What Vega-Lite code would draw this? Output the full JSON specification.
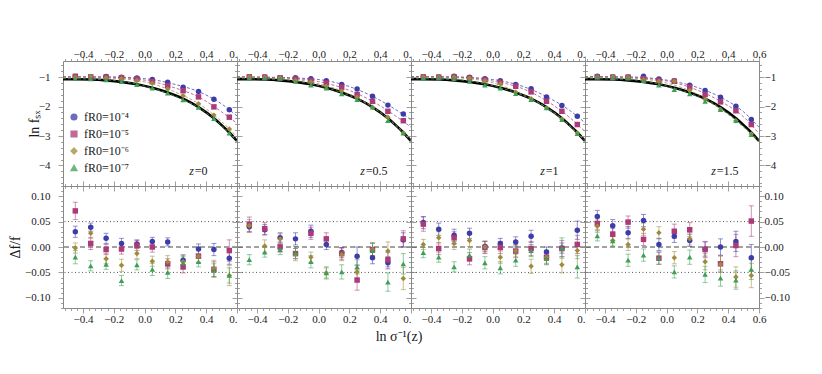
{
"$schema": "https://vega.github.io/schema/vega-lite/v6.json",
"background": "white",
"padding": {"left": 8, "top": 48, "right": 5, "bottom": 5},
"config": {
  "font": "Liberation Serif",
  "view": {"stroke": null},
  "axis": {"grid": false, "domainColor": "#888", "tickColor": "#888", "labelFont": "Liberation Serif", "labelFontSize": 11, "labelColor": "#1a1a1a", "labelFlush": false, "labelOverlap": false, "titleFont": "Liberation Serif", "titleFontSize": 14, "titleFontWeight": "normal", "titleColor": "#1a1a1a", "domainWidth": 1, "tickWidth": 0.8}
},
"resolve": {"legend": {"color": "independent", "shape": "independent"}},
"datasets": {
"refs": [{"v": 0.05}, {"v": -0.05}],
"black": [
{"x":-0.53,"y":-1.07},{"x":-0.45,"y":-1.07},{"x":-0.35,"y":-1.08},{"x":-0.25,"y":-1.11},{"x":-0.15,"y":-1.16},{"x":-0.05,"y":-1.24},{"x":0.05,"y":-1.36},{"x":0.15,"y":-1.52},{"x":0.25,"y":-1.73},{"x":0.35,"y":-2.02},{"x":0.45,"y":-2.40},{"x":0.5,"y":-2.63},{"x":0.55,"y":-2.88},{"x":0.6,"y":-3.17}
],
"fits": [
{"z":0,"m":"4","x":-0.53,"y":-0.99},{"z":0,"m":"4","x":-0.25,"y":-0.99},{"z":0,"m":"4","x":0,"y":-1.05},{"z":0,"m":"4","x":0.2,"y":-1.25},{"z":0,"m":"4","x":0.35,"y":-1.49},{"z":0,"m":"4","x":0.5,"y":-1.91},{"z":0,"m":"4","x":0.6,"y":-2.32},
{"z":0,"m":"5","x":-0.53,"y":-0.99},{"z":0,"m":"5","x":-0.25,"y":-1.00},{"z":0,"m":"5","x":0,"y":-1.10},{"z":0,"m":"5","x":0.2,"y":-1.37},{"z":0,"m":"5","x":0.35,"y":-1.67},{"z":0,"m":"5","x":0.5,"y":-2.18},{"z":0,"m":"5","x":0.6,"y":-2.57},
{"z":0,"m":"6","x":-0.53,"y":-1.02},{"z":0,"m":"6","x":-0.25,"y":-1.03},{"z":0,"m":"6","x":0,"y":-1.16},{"z":0,"m":"6","x":0.2,"y":-1.51},{"z":0,"m":"6","x":0.35,"y":-1.90},{"z":0,"m":"6","x":0.5,"y":-2.51},{"z":0,"m":"6","x":0.6,"y":-3.03},
{"z":0,"m":"7","x":-0.53,"y":-1.05},{"z":0,"m":"7","x":-0.25,"y":-1.09},{"z":0,"m":"7","x":0,"y":-1.30},{"z":0,"m":"7","x":0.2,"y":-1.65},{"z":0,"m":"7","x":0.35,"y":-2.03},{"z":0,"m":"7","x":0.5,"y":-2.64},{"z":0,"m":"7","x":0.6,"y":-3.18},
{"z":0.5,"m":"4","x":-0.53,"y":-0.99},{"z":0.5,"m":"4","x":-0.25,"y":-1.01},{"z":0.5,"m":"4","x":0,"y":-1.08},{"z":0.5,"m":"4","x":0.2,"y":-1.32},{"z":0.5,"m":"4","x":0.35,"y":-1.65},{"z":0.5,"m":"4","x":0.5,"y":-2.10},{"z":0.5,"m":"4","x":0.6,"y":-2.45},
{"z":0.5,"m":"5","x":-0.53,"y":-0.99},{"z":0.5,"m":"5","x":-0.25,"y":-1.02},{"z":0.5,"m":"5","x":0,"y":-1.15},{"z":0.5,"m":"5","x":0.2,"y":-1.45},{"z":0.5,"m":"5","x":0.35,"y":-1.82},{"z":0.5,"m":"5","x":0.5,"y":-2.32},{"z":0.5,"m":"5","x":0.6,"y":-2.70},
{"z":0.5,"m":"6","x":-0.53,"y":-1.00},{"z":0.5,"m":"6","x":-0.25,"y":-1.04},{"z":0.5,"m":"6","x":0,"y":-1.22},{"z":0.5,"m":"6","x":0.2,"y":-1.58},{"z":0.5,"m":"6","x":0.35,"y":-2.00},{"z":0.5,"m":"6","x":0.5,"y":-2.62},{"z":0.5,"m":"6","x":0.6,"y":-3.12},
{"z":0.5,"m":"7","x":-0.53,"y":-1.05},{"z":0.5,"m":"7","x":-0.25,"y":-1.08},{"z":0.5,"m":"7","x":0,"y":-1.29},{"z":0.5,"m":"7","x":0.2,"y":-1.63},{"z":0.5,"m":"7","x":0.35,"y":-2.02},{"z":0.5,"m":"7","x":0.5,"y":-2.64},{"z":0.5,"m":"7","x":0.6,"y":-3.17},
{"z":1,"m":"4","x":-0.53,"y":-0.98},{"z":1,"m":"4","x":-0.25,"y":-0.99},{"z":1,"m":"4","x":0,"y":-1.08},{"z":1,"m":"4","x":0.2,"y":-1.32},{"z":1,"m":"4","x":0.35,"y":-1.66},{"z":1,"m":"4","x":0.5,"y":-2.13},{"z":1,"m":"4","x":0.6,"y":-2.55},
{"z":1,"m":"5","x":-0.53,"y":-0.99},{"z":1,"m":"5","x":-0.25,"y":-1.00},{"z":1,"m":"5","x":0,"y":-1.13},{"z":1,"m":"5","x":0.2,"y":-1.40},{"z":1,"m":"5","x":0.35,"y":-1.80},{"z":1,"m":"5","x":0.5,"y":-2.37},{"z":1,"m":"5","x":0.6,"y":-2.85},
{"z":1,"m":"6","x":-0.53,"y":-1.00},{"z":1,"m":"6","x":-0.25,"y":-1.02},{"z":1,"m":"6","x":0,"y":-1.19},{"z":1,"m":"6","x":0.2,"y":-1.60},{"z":1,"m":"6","x":0.35,"y":-2.03},{"z":1,"m":"6","x":0.5,"y":-2.64},{"z":1,"m":"6","x":0.6,"y":-3.15},
{"z":1,"m":"7","x":-0.53,"y":-1.05},{"z":1,"m":"7","x":-0.25,"y":-1.08},{"z":1,"m":"7","x":0,"y":-1.29},{"z":1,"m":"7","x":0.2,"y":-1.63},{"z":1,"m":"7","x":0.35,"y":-2.03},{"z":1,"m":"7","x":0.5,"y":-2.65},{"z":1,"m":"7","x":0.6,"y":-3.18},
{"z":1.5,"m":"4","x":-0.53,"y":-0.98},{"z":1.5,"m":"4","x":-0.25,"y":-0.99},{"z":1.5,"m":"4","x":0,"y":-1.10},{"z":1.5,"m":"4","x":0.2,"y":-1.35},{"z":1.5,"m":"4","x":0.35,"y":-1.68},{"z":1.5,"m":"4","x":0.5,"y":-2.18},{"z":1.5,"m":"4","x":0.6,"y":-2.70},
{"z":1.5,"m":"5","x":-0.53,"y":-0.99},{"z":1.5,"m":"5","x":-0.25,"y":-1.01},{"z":1.5,"m":"5","x":0,"y":-1.13},{"z":1.5,"m":"5","x":0.2,"y":-1.44},{"z":1.5,"m":"5","x":0.35,"y":-1.82},{"z":1.5,"m":"5","x":0.5,"y":-2.35},{"z":1.5,"m":"5","x":0.6,"y":-2.92},
{"z":1.5,"m":"6","x":-0.53,"y":-1.00},{"z":1.5,"m":"6","x":-0.25,"y":-1.03},{"z":1.5,"m":"6","x":0,"y":-1.20},{"z":1.5,"m":"6","x":0.2,"y":-1.58},{"z":1.5,"m":"6","x":0.35,"y":-2.05},{"z":1.5,"m":"6","x":0.5,"y":-2.68},{"z":1.5,"m":"6","x":0.6,"y":-3.15},
{"z":1.5,"m":"7","x":-0.53,"y":-1.05},{"z":1.5,"m":"7","x":-0.25,"y":-1.08},{"z":1.5,"m":"7","x":0,"y":-1.30},{"z":1.5,"m":"7","x":0.2,"y":-1.65},{"z":1.5,"m":"7","x":0.35,"y":-2.08},{"z":1.5,"m":"7","x":0.5,"y":-2.70},{"z":1.5,"m":"7","x":0.6,"y":-3.20}
],
"pts": [
{"z":0,"m":"4","x":-0.45,"y":-0.98,"d":0.030,"e":0.011},{"z":0,"m":"4","x":-0.35,"y":-0.99,"d":0.039,"e":0.008},{"z":0,"m":"4","x":-0.25,"y":-0.98,"d":0.017,"e":0.010},{"z":0,"m":"4","x":-0.15,"y":-1.00,"d":0.007,"e":0.010},{"z":0,"m":"4","x":-0.05,"y":-1.03,"d":0.006,"e":0.008},{"z":0,"m":"4","x":0.05,"y":-1.08,"d":0.011,"e":0.008},{"z":0,"m":"4","x":0.15,"y":-1.17,"d":0.010,"e":0.008},{"z":0,"m":"4","x":0.25,"y":-1.34,"d":-0.026,"e":0.010},{"z":0,"m":"4","x":0.35,"y":-1.49,"d":-0.004,"e":0.010},{"z":0,"m":"4","x":0.45,"y":-1.75,"d":-0.005,"e":0.012},{"z":0,"m":"4","x":0.55,"y":-2.11,"d":-0.022,"e":0.012},
{"z":0,"m":"5","x":-0.45,"y":-0.97,"d":0.071,"e":0.017},{"z":0,"m":"5","x":-0.35,"y":-0.99,"d":0.007,"e":0.012},{"z":0,"m":"5","x":-0.25,"y":-1.00,"d":-0.005,"e":0.010},{"z":0,"m":"5","x":-0.15,"y":-1.02,"d":-0.004,"e":0.010},{"z":0,"m":"5","x":-0.05,"y":-1.06,"d":0.003,"e":0.010},{"z":0,"m":"5","x":0.05,"y":-1.15,"d":0.000,"e":0.010},{"z":0,"m":"5","x":0.15,"y":-1.29,"d":-0.033,"e":0.010},{"z":0,"m":"5","x":0.25,"y":-1.46,"d":-0.039,"e":0.012},{"z":0,"m":"5","x":0.35,"y":-1.67,"d":-0.018,"e":0.012},{"z":0,"m":"5","x":0.45,"y":-2.01,"d":-0.044,"e":0.015},{"z":0,"m":"5","x":0.55,"y":-2.36,"d":-0.007,"e":0.021},
{"z":0,"m":"6","x":-0.45,"y":-1.00,"d":-0.002,"e":0.010},{"z":0,"m":"6","x":-0.35,"y":-0.98,"d":0.027,"e":0.010},{"z":0,"m":"6","x":-0.25,"y":-1.02,"d":-0.023,"e":0.010},{"z":0,"m":"6","x":-0.15,"y":-1.05,"d":-0.036,"e":0.012},{"z":0,"m":"6","x":-0.05,"y":-1.11,"d":-0.013,"e":0.010},{"z":0,"m":"6","x":0.05,"y":-1.21,"d":-0.028,"e":0.010},{"z":0,"m":"6","x":0.15,"y":-1.40,"d":-0.029,"e":0.012},{"z":0,"m":"6","x":0.25,"y":-1.63,"d":-0.029,"e":0.014},{"z":0,"m":"6","x":0.35,"y":-1.90,"d":-0.018,"e":0.013},{"z":0,"m":"6","x":0.45,"y":-2.29,"d":-0.042,"e":0.016},{"z":0,"m":"6","x":0.55,"y":-2.76,"d":-0.056,"e":0.020},
{"z":0,"m":"7","x":-0.45,"y":-1.05,"d":-0.020,"e":0.013},{"z":0,"m":"7","x":-0.35,"y":-1.06,"d":-0.037,"e":0.010},{"z":0,"m":"7","x":-0.25,"y":-1.09,"d":-0.034,"e":0.010},{"z":0,"m":"7","x":-0.15,"y":-1.15,"d":-0.066,"e":0.010},{"z":0,"m":"7","x":-0.05,"y":-1.25,"d":-0.035,"e":0.010},{"z":0,"m":"7","x":0.05,"y":-1.37,"d":-0.044,"e":0.012},{"z":0,"m":"7","x":0.15,"y":-1.54,"d":-0.050,"e":0.012},{"z":0,"m":"7","x":0.25,"y":-1.77,"d":-0.031,"e":0.012},{"z":0,"m":"7","x":0.35,"y":-2.03,"d":-0.029,"e":0.010},{"z":0,"m":"7","x":0.45,"y":-2.41,"d":-0.046,"e":0.013},{"z":0,"m":"7","x":0.55,"y":-2.90,"d":-0.056,"e":0.015},
{"z":0.5,"m":"4","x":-0.45,"y":-0.99,"d":0.040,"e":0.010},{"z":0.5,"m":"4","x":-0.35,"y":-0.99,"d":0.034,"e":0.010},{"z":0.5,"m":"4","x":-0.25,"y":-1.02,"d":0.018,"e":0.010},{"z":0.5,"m":"4","x":-0.15,"y":-1.02,"d":0.016,"e":0.012},{"z":0.5,"m":"4","x":-0.05,"y":-1.05,"d":0.031,"e":0.012},{"z":0.5,"m":"4","x":0.05,"y":-1.12,"d":0.005,"e":0.010},{"z":0.5,"m":"4","x":0.15,"y":-1.25,"d":-0.011,"e":0.010},{"z":0.5,"m":"4","x":0.25,"y":-1.40,"d":-0.018,"e":0.018},{"z":0.5,"m":"4","x":0.35,"y":-1.65,"d":-0.021,"e":0.012},{"z":0.5,"m":"4","x":0.45,"y":-1.95,"d":-0.031,"e":0.012},{"z":0.5,"m":"4","x":0.55,"y":-2.25,"d":0.014,"e":0.014},
{"z":0.5,"m":"5","x":-0.45,"y":-0.99,"d":0.044,"e":0.015},{"z":0.5,"m":"5","x":-0.35,"y":-1.00,"d":0.036,"e":0.012},{"z":0.5,"m":"5","x":-0.25,"y":-1.02,"d":0.000,"e":0.010},{"z":0.5,"m":"5","x":-0.15,"y":-1.06,"d":-0.013,"e":0.010},{"z":0.5,"m":"5","x":-0.05,"y":-1.12,"d":0.027,"e":0.012},{"z":0.5,"m":"5","x":0.05,"y":-1.20,"d":0.016,"e":0.012},{"z":0.5,"m":"5","x":0.15,"y":-1.34,"d":-0.013,"e":0.012},{"z":0.5,"m":"5","x":0.25,"y":-1.59,"d":-0.065,"e":0.020},{"z":0.5,"m":"5","x":0.35,"y":-1.82,"d":-0.005,"e":0.012},{"z":0.5,"m":"5","x":0.45,"y":-2.16,"d":-0.025,"e":0.014},{"z":0.5,"m":"5","x":0.55,"y":-2.48,"d":0.016,"e":0.016},
{"z":0.5,"m":"6","x":-0.45,"y":-0.99,"d":0.042,"e":0.012},{"z":0.5,"m":"6","x":-0.35,"y":-1.00,"d":0.002,"e":0.012},{"z":0.5,"m":"6","x":-0.25,"y":-1.02,"d":0.016,"e":0.010},{"z":0.5,"m":"6","x":-0.15,"y":-1.11,"d":-0.015,"e":0.012},{"z":0.5,"m":"6","x":-0.05,"y":-1.16,"d":-0.020,"e":0.010},{"z":0.5,"m":"6","x":0.05,"y":-1.31,"d":-0.051,"e":0.010},{"z":0.5,"m":"6","x":0.15,"y":-1.48,"d":-0.015,"e":0.012},{"z":0.5,"m":"6","x":0.25,"y":-1.68,"d":-0.049,"e":0.014},{"z":0.5,"m":"6","x":0.35,"y":-2.02,"d":-0.005,"e":0.012},{"z":0.5,"m":"6","x":0.45,"y":-2.36,"d":-0.008,"e":0.018},{"z":0.5,"m":"6","x":0.55,"y":-2.90,"d":-0.062,"e":0.022},
{"z":0.5,"m":"7","x":-0.45,"y":-1.04,"d":-0.025,"e":0.010},{"z":0.5,"m":"7","x":-0.35,"y":-1.03,"d":-0.010,"e":0.010},{"z":0.5,"m":"7","x":-0.25,"y":-1.04,"d":-0.005,"e":0.010},{"z":0.5,"m":"7","x":-0.15,"y":-1.14,"d":-0.011,"e":0.012},{"z":0.5,"m":"7","x":-0.05,"y":-1.27,"d":-0.029,"e":0.012},{"z":0.5,"m":"7","x":0.05,"y":-1.37,"d":-0.051,"e":0.012},{"z":0.5,"m":"7","x":0.15,"y":-1.57,"d":-0.049,"e":0.014},{"z":0.5,"m":"7","x":0.25,"y":-1.76,"d":-0.039,"e":0.014},{"z":0.5,"m":"7","x":0.35,"y":-2.02,"d":-0.007,"e":0.016},{"z":0.5,"m":"7","x":0.45,"y":-2.48,"d":-0.069,"e":0.018},{"z":0.5,"m":"7","x":0.55,"y":-2.90,"d":-0.033,"e":0.020},
{"z":1,"m":"4","x":-0.45,"y":-0.99,"d":0.048,"e":0.012},{"z":1,"m":"4","x":-0.35,"y":-0.99,"d":0.035,"e":0.012},{"z":1,"m":"4","x":-0.25,"y":-0.97,"d":0.023,"e":0.012},{"z":1,"m":"4","x":-0.15,"y":-1.00,"d":0.027,"e":0.010},{"z":1,"m":"4","x":-0.05,"y":-1.05,"d":0.001,"e":0.010},{"z":1,"m":"4","x":0.05,"y":-1.12,"d":0.007,"e":0.010},{"z":1,"m":"4","x":0.15,"y":-1.25,"d":0.010,"e":0.010},{"z":1,"m":"4","x":0.25,"y":-1.39,"d":0.021,"e":0.012},{"z":1,"m":"4","x":0.35,"y":-1.67,"d":-0.010,"e":0.010},{"z":1,"m":"4","x":0.45,"y":-1.96,"d":-0.002,"e":0.010},{"z":1,"m":"4","x":0.55,"y":-2.33,"d":0.033,"e":0.018},
{"z":1,"m":"5","x":-0.45,"y":-0.99,"d":0.045,"e":0.014},{"z":1,"m":"5","x":-0.35,"y":-1.00,"d":-0.003,"e":0.012},{"z":1,"m":"5","x":-0.25,"y":-0.99,"d":0.018,"e":0.012},{"z":1,"m":"5","x":-0.15,"y":-1.03,"d":-0.023,"e":0.012},{"z":1,"m":"5","x":-0.05,"y":-1.09,"d":-0.001,"e":0.012},{"z":1,"m":"5","x":0.05,"y":-1.17,"d":-0.001,"e":0.012},{"z":1,"m":"5","x":0.15,"y":-1.31,"d":-0.008,"e":0.012},{"z":1,"m":"5","x":0.25,"y":-1.50,"d":-0.003,"e":0.014},{"z":1,"m":"5","x":0.35,"y":-1.82,"d":-0.020,"e":0.012},{"z":1,"m":"5","x":0.45,"y":-2.16,"d":-0.003,"e":0.016},{"z":1,"m":"5","x":0.55,"y":-2.61,"d":0.005,"e":0.018},
{"z":1,"m":"6","x":-0.45,"y":-0.99,"d":0.005,"e":0.010},{"z":1,"m":"6","x":-0.35,"y":-1.00,"d":0.018,"e":0.012},{"z":1,"m":"6","x":-0.25,"y":-1.00,"d":0.007,"e":0.012},{"z":1,"m":"6","x":-0.15,"y":-1.04,"d":0.013,"e":0.012},{"z":1,"m":"6","x":-0.05,"y":-1.11,"d":0.000,"e":0.012},{"z":1,"m":"6","x":0.05,"y":-1.22,"d":-0.020,"e":0.012},{"z":1,"m":"6","x":0.15,"y":-1.51,"d":-0.008,"e":0.012},{"z":1,"m":"6","x":0.25,"y":-1.73,"d":-0.038,"e":0.014},{"z":1,"m":"6","x":0.35,"y":-2.04,"d":-0.020,"e":0.014},{"z":1,"m":"6","x":0.45,"y":-2.42,"d":-0.035,"e":0.016},{"z":1,"m":"6","x":0.55,"y":-2.90,"d":-0.007,"e":0.016},
{"z":1,"m":"7","x":-0.45,"y":-1.04,"d":-0.011,"e":0.010},{"z":1,"m":"7","x":-0.35,"y":-1.03,"d":-0.020,"e":0.010},{"z":1,"m":"7","x":-0.25,"y":-1.06,"d":-0.039,"e":0.010},{"z":1,"m":"7","x":-0.15,"y":-1.14,"d":-0.016,"e":0.012},{"z":1,"m":"7","x":-0.05,"y":-1.27,"d":-0.031,"e":0.012},{"z":1,"m":"7","x":0.05,"y":-1.37,"d":-0.041,"e":0.012},{"z":1,"m":"7","x":0.15,"y":-1.56,"d":-0.026,"e":0.012},{"z":1,"m":"7","x":0.25,"y":-1.76,"d":-0.007,"e":0.012},{"z":1,"m":"7","x":0.35,"y":-2.04,"d":-0.023,"e":0.012},{"z":1,"m":"7","x":0.45,"y":-2.44,"d":-0.002,"e":0.020},{"z":1,"m":"7","x":0.55,"y":-2.92,"d":-0.039,"e":0.022},
{"z":1.5,"m":"4","x":-0.45,"y":-0.97,"d":0.060,"e":0.012},{"z":1.5,"m":"4","x":-0.35,"y":-0.99,"d":0.042,"e":0.012},{"z":1.5,"m":"4","x":-0.25,"y":-0.99,"d":0.028,"e":0.012},{"z":1.5,"m":"4","x":-0.15,"y":-0.97,"d":0.052,"e":0.012},{"z":1.5,"m":"4","x":-0.05,"y":-1.06,"d":0.005,"e":0.012},{"z":1.5,"m":"4","x":0.05,"y":-1.12,"d":0.021,"e":0.012},{"z":1.5,"m":"4","x":0.15,"y":-1.27,"d":0.013,"e":0.012},{"z":1.5,"m":"4","x":0.25,"y":-1.45,"d":-0.004,"e":0.014},{"z":1.5,"m":"4","x":0.35,"y":-1.68,"d":0.000,"e":0.016},{"z":1.5,"m":"4","x":0.45,"y":-1.99,"d":0.011,"e":0.020},{"z":1.5,"m":"4","x":0.55,"y":-2.44,"d":-0.021,"e":0.026},
{"z":1.5,"m":"5","x":-0.45,"y":-0.99,"d":0.046,"e":0.012},{"z":1.5,"m":"5","x":-0.35,"y":-1.00,"d":0.025,"e":0.012},{"z":1.5,"m":"5","x":-0.25,"y":-1.00,"d":0.049,"e":0.012},{"z":1.5,"m":"5","x":-0.15,"y":-1.05,"d":0.015,"e":0.012},{"z":1.5,"m":"5","x":-0.05,"y":-1.11,"d":-0.022,"e":0.012},{"z":1.5,"m":"5","x":0.05,"y":-1.14,"d":0.031,"e":0.014},{"z":1.5,"m":"5","x":0.15,"y":-1.34,"d":0.034,"e":0.014},{"z":1.5,"m":"5","x":0.25,"y":-1.59,"d":-0.005,"e":0.016},{"z":1.5,"m":"5","x":0.35,"y":-1.84,"d":-0.033,"e":0.016},{"z":1.5,"m":"5","x":0.45,"y":-2.14,"d":0.003,"e":0.022},{"z":1.5,"m":"5","x":0.55,"y":-2.61,"d":0.051,"e":0.030},
{"z":1.5,"m":"6","x":-0.45,"y":-0.99,"d":0.041,"e":0.012},{"z":1.5,"m":"6","x":-0.35,"y":-0.99,"d":0.013,"e":0.012},{"z":1.5,"m":"6","x":-0.25,"y":-1.00,"d":0.005,"e":0.012},{"z":1.5,"m":"6","x":-0.15,"y":-1.09,"d":0.035,"e":0.012},{"z":1.5,"m":"6","x":-0.05,"y":-1.14,"d":0.028,"e":0.012},{"z":1.5,"m":"6","x":0.05,"y":-1.14,"d":-0.021,"e":0.012},{"z":1.5,"m":"6","x":0.15,"y":-1.45,"d":0.016,"e":0.012},{"z":1.5,"m":"6","x":0.25,"y":-1.76,"d":-0.029,"e":0.016},{"z":1.5,"m":"6","x":0.35,"y":-2.10,"d":-0.034,"e":0.016},{"z":1.5,"m":"6","x":0.45,"y":-2.48,"d":-0.059,"e":0.020},{"z":1.5,"m":"6","x":0.55,"y":-2.93,"d":-0.056,"e":0.024},
{"z":1.5,"m":"7","x":-0.45,"y":-0.99,"d":0.022,"e":0.010},{"z":1.5,"m":"7","x":-0.35,"y":-1.03,"d":0.012,"e":0.010},{"z":1.5,"m":"7","x":-0.25,"y":-1.03,"d":-0.026,"e":0.012},{"z":1.5,"m":"7","x":-0.15,"y":-1.12,"d":-0.016,"e":0.012},{"z":1.5,"m":"7","x":-0.05,"y":-1.27,"d":-0.022,"e":0.012},{"z":1.5,"m":"7","x":0.05,"y":-1.42,"d":-0.049,"e":0.012},{"z":1.5,"m":"7","x":0.15,"y":-1.57,"d":-0.020,"e":0.014},{"z":1.5,"m":"7","x":0.25,"y":-1.82,"d":-0.054,"e":0.016},{"z":1.5,"m":"7","x":0.35,"y":-2.10,"d":-0.061,"e":0.016},{"z":1.5,"m":"7","x":0.45,"y":-2.48,"d":-0.065,"e":0.018},{"z":1.5,"m":"7","x":0.55,"y":-2.95,"d":-0.044,"e":0.020}
]
},
"title": {"text": "ln σ⁻¹(z)", "orient": "bottom", "anchor": "middle", "font": "Liberation Serif", "fontSize": 14, "fontWeight": "normal", "color": "#1a1a1a", "offset": 6},
"spacing": 0,
"bounds": "flush",
"columns": 4,
"concat": [
 {"width": 174, "height": 125, "resolve": {"axis": {"x": "independent", "y": "independent"}}, "layer": [
  {"data": {"name": "black"}, "mark": {"type": "line", "color": "#000", "strokeWidth": 2.6, "interpolate": "monotone", "clip": true},
   "encoding": {"x": {"field": "x", "type": "quantitative", "scale": {"domain": [-0.53, 0.6], "nice": false, "zero": false}, "axis": {"orient": "bottom", "values": [-0.52,-0.48,-0.44,-0.4,-0.36,-0.32,-0.28,-0.24,-0.2,-0.16,-0.12,-0.08,-0.04,0,0.04,0.08,0.12,0.16,0.2,0.24,0.28,0.32,0.36,0.4,0.44,0.48,0.52,0.56,0.6], "labels": false, "title": null, "tickSize": {"condition": {"test": "abs(round(datum.value*100)) % 20 == 0", "value": 5}, "value": 2.5}}},
                "y": {"field": "y", "type": "quantitative", "scale": {"domain": [-4.7, -0.45], "nice": false, "zero": false}, "axis": {"orient": "left", "values": [-4.6,-4.4,-4.2,-4,-3.8,-3.6,-3.4,-3.2,-3,-2.8,-2.6,-2.4,-2.2,-2,-1.8,-1.6,-1.4,-1.2,-1,-0.8,-0.6], "format": ".0f", "labelOverlap": false, "labelExpr": "abs(round(datum.value*10)) % 10 == 0 ? datum.label : ''", "labelPadding": 8, "title": "ln fₛₓ", "titlePadding": -3, "tickSize": {"condition": {"test": "abs(round(datum.value*10)) % 10 == 0", "value": 5}, "value": 2.5}}}}},
  {"data": {"name": "fits"}, "transform": [{"filter": "datum.z == 0"}], "mark": {"type": "line", "strokeWidth": 1, "strokeDash": [3, 2], "interpolate": "monotone", "opacity": 0.75, "clip": true},
   "encoding": {"x": {"field": "x", "type": "quantitative", "scale": {"domain": [-0.53, 0.6], "nice": false, "zero": false}, "axis": null},
                "y": {"field": "y", "type": "quantitative", "scale": {"domain": [-4.7, -0.45], "nice": false, "zero": false}, "axis": null},
                "color": {"field": "m", "type": "nominal", "scale": {"domain": ["4","5","6","7"], "range": ["#3d3daa","#aa3a78","#a08a3a","#3d9f55"]}, "legend": {"orient": "none", "legendX": 5, "legendY": 50, "title": null, "padding": 0, "rowPadding": 5, "symbolSize": 32, "labelFont": "Liberation Serif", "labelFontSize": 12, "labelColor": "#1a1a1a", "labelOffset": 4, "labelExpr": "'fR0=10⁻' + (datum.value == '4' ? '⁴' : datum.value == '5' ? '⁵' : datum.value == '6' ? '⁶' : '⁷')"}}}},
  {"data": {"name": "pts"}, "transform": [{"filter": "datum.z == 0"}], "mark": {"type": "point", "filled": true, "size": 30, "opacity": 1},
   "encoding": {"x": {"field": "x", "type": "quantitative", "scale": {"domain": [-0.53, 0.6], "nice": false, "zero": false}, "axis": {"orient": "top", "values": [-0.52,-0.48,-0.44,-0.4,-0.36,-0.32,-0.28,-0.24,-0.2,-0.16,-0.12,-0.08,-0.04,0,0.04,0.08,0.12,0.16,0.2,0.24,0.28,0.32,0.36,0.4,0.44,0.48,0.52,0.56,0.6], "format": ".1f", "labelOverlap": false, "labelExpr": "abs(round(datum.value*100)) % 20 != 0 ? '' : (datum.value > 0.59 ? '0.' : datum.label)", "labelAlign": {"condition": {"test": "datum.value > 0.59", "value": "right"}, "value": "center"}, "labelPadding": -3, "title": null, "tickSize": {"condition": {"test": "abs(round(datum.value*100)) % 20 == 0", "value": 5}, "value": 2.5}}},
                "y": {"field": "y", "type": "quantitative", "scale": {"domain": [-4.7, -0.45], "nice": false, "zero": false}, "axis": {"orient": "right", "values": [-4.6,-4.4,-4.2,-4,-3.8,-3.6,-3.4,-3.2,-3,-2.8,-2.6,-2.4,-2.2,-2,-1.8,-1.6,-1.4,-1.2,-1,-0.8,-0.6], "labels": false, "title": null, "tickSize": {"condition": {"test": "abs(round(datum.value*10)) % 10 == 0", "value": 5}, "value": 2.5}}},
                "color": {"field": "m", "type": "nominal", "scale": {"domain": ["4","5","6","7"], "range": ["#3d3daa","#aa3a78","#a08a3a","#3d9f55"]}, "legend": {"orient": "none", "legendX": 5, "legendY": 50, "title": null, "padding": 0, "rowPadding": 5, "symbolSize": 32, "labelFont": "Liberation Serif", "labelFontSize": 12, "labelColor": "#1a1a1a", "labelOffset": 4, "labelExpr": "'fR0=10⁻' + (datum.value == '4' ? '⁴' : datum.value == '5' ? '⁵' : datum.value == '6' ? '⁶' : '⁷')"}},
                "shape": {"field": "m", "type": "nominal", "scale": {"domain": ["4","5","6","7"], "range": ["circle","square","diamond","triangle-up"]}, "legend": {"orient": "none", "legendX": 5, "legendY": 50, "title": null, "padding": 0, "rowPadding": 5, "symbolSize": 32, "labelFont": "Liberation Serif", "labelFontSize": 12, "labelColor": "#1a1a1a", "labelOffset": 4, "labelExpr": "'fR0=10⁻' + (datum.value == '4' ? '⁴' : datum.value == '5' ? '⁵' : datum.value == '6' ? '⁶' : '⁷')"}}}},
  {"data": {"values": [{}]}, "mark": {"type": "text", "text": "z", "fontStyle": "italic", "fontSize": 12, "align": "left", "baseline": "alphabetic", "color": "#1a1a1a"},
   "encoding": {"x": {"datum": 0.29, "type": "quantitative", "scale": {"domain": [-0.53, 0.6], "nice": false, "zero": false}, "axis": null}, "y": {"datum": -4.33, "type": "quantitative", "scale": {"domain": [-4.7, -0.45], "nice": false, "zero": false}, "axis": null}}},
  {"data": {"values": [{}]}, "mark": {"type": "text", "text": "=0", "fontSize": 12, "align": "left", "baseline": "alphabetic", "dx": 5.5, "color": "#1a1a1a"},
   "encoding": {"x": {"datum": 0.29, "type": "quantitative", "scale": {"domain": [-0.53, 0.6], "nice": false, "zero": false}, "axis": null}, "y": {"datum": -4.33, "type": "quantitative", "scale": {"domain": [-4.7, -0.45], "nice": false, "zero": false}, "axis": null}}}
 ]},
 {"width": 174, "height": 125, "resolve": {"axis": {"x": "independent", "y": "independent"}}, "layer": [
  {"data": {"name": "black"}, "mark": {"type": "line", "color": "#000", "strokeWidth": 2.6, "interpolate": "monotone", "clip": true},
   "encoding": {"x": {"field": "x", "type": "quantitative", "scale": {"domain": [-0.53, 0.6], "nice": false, "zero": false}, "axis": {"orient": "bottom", "values": [-0.52,-0.48,-0.44,-0.4,-0.36,-0.32,-0.28,-0.24,-0.2,-0.16,-0.12,-0.08,-0.04,0,0.04,0.08,0.12,0.16,0.2,0.24,0.28,0.32,0.36,0.4,0.44,0.48,0.52,0.56,0.6], "labels": false, "title": null, "tickSize": {"condition": {"test": "abs(round(datum.value*100)) % 20 == 0", "value": 5}, "value": 2.5}}},
                "y": {"field": "y", "type": "quantitative", "scale": {"domain": [-4.7, -0.45], "nice": false, "zero": false}, "axis": {"orient": "left", "values": [-4.6,-4.4,-4.2,-4,-3.8,-3.6,-3.4,-3.2,-3,-2.8,-2.6,-2.4,-2.2,-2,-1.8,-1.6,-1.4,-1.2,-1,-0.8,-0.6], "labels": false, "title": null, "tickSize": {"condition": {"test": "abs(round(datum.value*10)) % 10 == 0", "value": 5}, "value": 2.5}}}}},
  {"data": {"name": "fits"}, "transform": [{"filter": "datum.z == 0.5"}], "mark": {"type": "line", "strokeWidth": 1, "strokeDash": [3, 2], "interpolate": "monotone", "opacity": 0.75, "clip": true},
   "encoding": {"x": {"field": "x", "type": "quantitative", "scale": {"domain": [-0.53, 0.6], "nice": false, "zero": false}, "axis": null},
                "y": {"field": "y", "type": "quantitative", "scale": {"domain": [-4.7, -0.45], "nice": false, "zero": false}, "axis": null},
                "color": {"field": "m", "type": "nominal", "scale": {"domain": ["4","5","6","7"], "range": ["#3d3daa","#aa3a78","#a08a3a","#3d9f55"]}, "legend": null}}},
  {"data": {"name": "pts"}, "transform": [{"filter": "datum.z == 0.5"}], "mark": {"type": "point", "filled": true, "size": 30, "opacity": 1},
   "encoding": {"x": {"field": "x", "type": "quantitative", "scale": {"domain": [-0.53, 0.6], "nice": false, "zero": false}, "axis": {"orient": "top", "values": [-0.52,-0.48,-0.44,-0.4,-0.36,-0.32,-0.28,-0.24,-0.2,-0.16,-0.12,-0.08,-0.04,0,0.04,0.08,0.12,0.16,0.2,0.24,0.28,0.32,0.36,0.4,0.44,0.48,0.52,0.56,0.6], "format": ".1f", "labelOverlap": false, "labelExpr": "abs(round(datum.value*100)) % 20 != 0 ? '' : (datum.value > 0.59 ? '0.' : datum.label)", "labelAlign": {"condition": {"test": "datum.value > 0.59", "value": "right"}, "value": "center"}, "labelPadding": -3, "title": null, "tickSize": {"condition": {"test": "abs(round(datum.value*100)) % 20 == 0", "value": 5}, "value": 2.5}}},
                "y": {"field": "y", "type": "quantitative", "scale": {"domain": [-4.7, -0.45], "nice": false, "zero": false}, "axis": {"orient": "right", "values": [-4.6,-4.4,-4.2,-4,-3.8,-3.6,-3.4,-3.2,-3,-2.8,-2.6,-2.4,-2.2,-2,-1.8,-1.6,-1.4,-1.2,-1,-0.8,-0.6], "labels": false, "title": null, "tickSize": {"condition": {"test": "abs(round(datum.value*10)) % 10 == 0", "value": 5}, "value": 2.5}}},
                "color": {"field": "m", "type": "nominal", "scale": {"domain": ["4","5","6","7"], "range": ["#3d3daa","#aa3a78","#a08a3a","#3d9f55"]}, "legend": null},
                "shape": {"field": "m", "type": "nominal", "scale": {"domain": ["4","5","6","7"], "range": ["circle","square","diamond","triangle-up"]}, "legend": null}}},
  {"data": {"values": [{}]}, "mark": {"type": "text", "text": "z", "fontStyle": "italic", "fontSize": 12, "align": "left", "baseline": "alphabetic", "color": "#1a1a1a"},
   "encoding": {"x": {"datum": 0.27, "type": "quantitative", "scale": {"domain": [-0.53, 0.6], "nice": false, "zero": false}, "axis": null}, "y": {"datum": -4.33, "type": "quantitative", "scale": {"domain": [-4.7, -0.45], "nice": false, "zero": false}, "axis": null}}},
  {"data": {"values": [{}]}, "mark": {"type": "text", "text": "=0.5", "fontSize": 12, "align": "left", "baseline": "alphabetic", "dx": 5.5, "color": "#1a1a1a"},
   "encoding": {"x": {"datum": 0.27, "type": "quantitative", "scale": {"domain": [-0.53, 0.6], "nice": false, "zero": false}, "axis": null}, "y": {"datum": -4.33, "type": "quantitative", "scale": {"domain": [-4.7, -0.45], "nice": false, "zero": false}, "axis": null}}}
 ]},
 {"width": 174, "height": 125, "resolve": {"axis": {"x": "independent", "y": "independent"}}, "layer": [
  {"data": {"name": "black"}, "mark": {"type": "line", "color": "#000", "strokeWidth": 2.6, "interpolate": "monotone", "clip": true},
   "encoding": {"x": {"field": "x", "type": "quantitative", "scale": {"domain": [-0.53, 0.6], "nice": false, "zero": false}, "axis": {"orient": "bottom", "values": [-0.52,-0.48,-0.44,-0.4,-0.36,-0.32,-0.28,-0.24,-0.2,-0.16,-0.12,-0.08,-0.04,0,0.04,0.08,0.12,0.16,0.2,0.24,0.28,0.32,0.36,0.4,0.44,0.48,0.52,0.56,0.6], "labels": false, "title": null, "tickSize": {"condition": {"test": "abs(round(datum.value*100)) % 20 == 0", "value": 5}, "value": 2.5}}},
                "y": {"field": "y", "type": "quantitative", "scale": {"domain": [-4.7, -0.45], "nice": false, "zero": false}, "axis": {"orient": "left", "values": [-4.6,-4.4,-4.2,-4,-3.8,-3.6,-3.4,-3.2,-3,-2.8,-2.6,-2.4,-2.2,-2,-1.8,-1.6,-1.4,-1.2,-1,-0.8,-0.6], "labels": false, "title": null, "tickSize": {"condition": {"test": "abs(round(datum.value*10)) % 10 == 0", "value": 5}, "value": 2.5}}}}},
  {"data": {"name": "fits"}, "transform": [{"filter": "datum.z == 1"}], "mark": {"type": "line", "strokeWidth": 1, "strokeDash": [3, 2], "interpolate": "monotone", "opacity": 0.75, "clip": true},
   "encoding": {"x": {"field": "x", "type": "quantitative", "scale": {"domain": [-0.53, 0.6], "nice": false, "zero": false}, "axis": null},
                "y": {"field": "y", "type": "quantitative", "scale": {"domain": [-4.7, -0.45], "nice": false, "zero": false}, "axis": null},
                "color": {"field": "m", "type": "nominal", "scale": {"domain": ["4","5","6","7"], "range": ["#3d3daa","#aa3a78","#a08a3a","#3d9f55"]}, "legend": null}}},
  {"data": {"name": "pts"}, "transform": [{"filter": "datum.z == 1"}], "mark": {"type": "point", "filled": true, "size": 30, "opacity": 1},
   "encoding": {"x": {"field": "x", "type": "quantitative", "scale": {"domain": [-0.53, 0.6], "nice": false, "zero": false}, "axis": {"orient": "top", "values": [-0.52,-0.48,-0.44,-0.4,-0.36,-0.32,-0.28,-0.24,-0.2,-0.16,-0.12,-0.08,-0.04,0,0.04,0.08,0.12,0.16,0.2,0.24,0.28,0.32,0.36,0.4,0.44,0.48,0.52,0.56,0.6], "format": ".1f", "labelOverlap": false, "labelExpr": "abs(round(datum.value*100)) % 20 != 0 ? '' : (datum.value > 0.59 ? '0.' : datum.label)", "labelAlign": {"condition": {"test": "datum.value > 0.59", "value": "right"}, "value": "center"}, "labelPadding": -3, "title": null, "tickSize": {"condition": {"test": "abs(round(datum.value*100)) % 20 == 0", "value": 5}, "value": 2.5}}},
                "y": {"field": "y", "type": "quantitative", "scale": {"domain": [-4.7, -0.45], "nice": false, "zero": false}, "axis": {"orient": "right", "values": [-4.6,-4.4,-4.2,-4,-3.8,-3.6,-3.4,-3.2,-3,-2.8,-2.6,-2.4,-2.2,-2,-1.8,-1.6,-1.4,-1.2,-1,-0.8,-0.6], "labels": false, "title": null, "tickSize": {"condition": {"test": "abs(round(datum.value*10)) % 10 == 0", "value": 5}, "value": 2.5}}},
                "color": {"field": "m", "type": "nominal", "scale": {"domain": ["4","5","6","7"], "range": ["#3d3daa","#aa3a78","#a08a3a","#3d9f55"]}, "legend": null},
                "shape": {"field": "m", "type": "nominal", "scale": {"domain": ["4","5","6","7"], "range": ["circle","square","diamond","triangle-up"]}, "legend": null}}},
  {"data": {"values": [{}]}, "mark": {"type": "text", "text": "z", "fontStyle": "italic", "fontSize": 12, "align": "left", "baseline": "alphabetic", "color": "#1a1a1a"},
   "encoding": {"x": {"datum": 0.31, "type": "quantitative", "scale": {"domain": [-0.53, 0.6], "nice": false, "zero": false}, "axis": null}, "y": {"datum": -4.33, "type": "quantitative", "scale": {"domain": [-4.7, -0.45], "nice": false, "zero": false}, "axis": null}}},
  {"data": {"values": [{}]}, "mark": {"type": "text", "text": "=1", "fontSize": 12, "align": "left", "baseline": "alphabetic", "dx": 5.5, "color": "#1a1a1a"},
   "encoding": {"x": {"datum": 0.31, "type": "quantitative", "scale": {"domain": [-0.53, 0.6], "nice": false, "zero": false}, "axis": null}, "y": {"datum": -4.33, "type": "quantitative", "scale": {"domain": [-4.7, -0.45], "nice": false, "zero": false}, "axis": null}}}
 ]},
 {"width": 174, "height": 125, "resolve": {"axis": {"x": "independent", "y": "independent"}}, "layer": [
  {"data": {"name": "black"}, "mark": {"type": "line", "color": "#000", "strokeWidth": 2.6, "interpolate": "monotone", "clip": true},
   "encoding": {"x": {"field": "x", "type": "quantitative", "scale": {"domain": [-0.53, 0.6], "nice": false, "zero": false}, "axis": {"orient": "bottom", "values": [-0.52,-0.48,-0.44,-0.4,-0.36,-0.32,-0.28,-0.24,-0.2,-0.16,-0.12,-0.08,-0.04,0,0.04,0.08,0.12,0.16,0.2,0.24,0.28,0.32,0.36,0.4,0.44,0.48,0.52,0.56,0.6], "labels": false, "title": null, "tickSize": {"condition": {"test": "abs(round(datum.value*100)) % 20 == 0", "value": 5}, "value": 2.5}}},
                "y": {"field": "y", "type": "quantitative", "scale": {"domain": [-4.7, -0.45], "nice": false, "zero": false}, "axis": {"orient": "left", "values": [-4.6,-4.4,-4.2,-4,-3.8,-3.6,-3.4,-3.2,-3,-2.8,-2.6,-2.4,-2.2,-2,-1.8,-1.6,-1.4,-1.2,-1,-0.8,-0.6], "labels": false, "title": null, "tickSize": {"condition": {"test": "abs(round(datum.value*10)) % 10 == 0", "value": 5}, "value": 2.5}}}}},
  {"data": {"name": "fits"}, "transform": [{"filter": "datum.z == 1.5"}], "mark": {"type": "line", "strokeWidth": 1, "strokeDash": [3, 2], "interpolate": "monotone", "opacity": 0.75, "clip": true},
   "encoding": {"x": {"field": "x", "type": "quantitative", "scale": {"domain": [-0.53, 0.6], "nice": false, "zero": false}, "axis": null},
                "y": {"field": "y", "type": "quantitative", "scale": {"domain": [-4.7, -0.45], "nice": false, "zero": false}, "axis": null},
                "color": {"field": "m", "type": "nominal", "scale": {"domain": ["4","5","6","7"], "range": ["#3d3daa","#aa3a78","#a08a3a","#3d9f55"]}, "legend": null}}},
  {"data": {"name": "pts"}, "transform": [{"filter": "datum.z == 1.5"}], "mark": {"type": "point", "filled": true, "size": 30, "opacity": 1},
   "encoding": {"x": {"field": "x", "type": "quantitative", "scale": {"domain": [-0.53, 0.6], "nice": false, "zero": false}, "axis": {"orient": "top", "values": [-0.52,-0.48,-0.44,-0.4,-0.36,-0.32,-0.28,-0.24,-0.2,-0.16,-0.12,-0.08,-0.04,0,0.04,0.08,0.12,0.16,0.2,0.24,0.28,0.32,0.36,0.4,0.44,0.48,0.52,0.56,0.6], "format": ".1f", "labelOverlap": false, "labelExpr": "abs(round(datum.value*100)) % 20 != 0 ? '' : datum.label", "labelPadding": -3, "title": null, "tickSize": {"condition": {"test": "abs(round(datum.value*100)) % 20 == 0", "value": 5}, "value": 2.5}}},
                "y": {"field": "y", "type": "quantitative", "scale": {"domain": [-4.7, -0.45], "nice": false, "zero": false}, "axis": {"orient": "right", "values": [-4.6,-4.4,-4.2,-4,-3.8,-3.6,-3.4,-3.2,-3,-2.8,-2.6,-2.4,-2.2,-2,-1.8,-1.6,-1.4,-1.2,-1,-0.8,-0.6], "format": ".0f", "labelOverlap": false, "labelExpr": "abs(round(datum.value*10)) % 10 == 0 ? datum.label : ''", "labelPadding": 0, "title": null, "tickSize": {"condition": {"test": "abs(round(datum.value*10)) % 10 == 0", "value": 5}, "value": 2.5}}},
                "color": {"field": "m", "type": "nominal", "scale": {"domain": ["4","5","6","7"], "range": ["#3d3daa","#aa3a78","#a08a3a","#3d9f55"]}, "legend": null},
                "shape": {"field": "m", "type": "nominal", "scale": {"domain": ["4","5","6","7"], "range": ["circle","square","diamond","triangle-up"]}, "legend": null}}},
  {"data": {"values": [{}]}, "mark": {"type": "text", "text": "z", "fontStyle": "italic", "fontSize": 12, "align": "left", "baseline": "alphabetic", "color": "#1a1a1a"},
   "encoding": {"x": {"datum": 0.29, "type": "quantitative", "scale": {"domain": [-0.53, 0.6], "nice": false, "zero": false}, "axis": null}, "y": {"datum": -4.33, "type": "quantitative", "scale": {"domain": [-4.7, -0.45], "nice": false, "zero": false}, "axis": null}}},
  {"data": {"values": [{}]}, "mark": {"type": "text", "text": "=1.5", "fontSize": 12, "align": "left", "baseline": "alphabetic", "dx": 5.5, "color": "#1a1a1a"},
   "encoding": {"x": {"datum": 0.29, "type": "quantitative", "scale": {"domain": [-0.53, 0.6], "nice": false, "zero": false}, "axis": null}, "y": {"datum": -4.33, "type": "quantitative", "scale": {"domain": [-4.7, -0.45], "nice": false, "zero": false}, "axis": null}}}
 ]},
 {"width": 174, "height": 122, "resolve": {"axis": {"x": "independent", "y": "independent"}}, "layer": [
  {"data": {"name": "refs"}, "mark": {"type": "rule", "color": "#555", "strokeWidth": 1, "strokeDash": [1, 2.5]}, "encoding": {"y": {"field": "v", "type": "quantitative", "scale": {"domain": [-0.12, 0.12], "nice": false, "zero": false}, "axis": null}}},
  {"data": {"values": [{}]}, "mark": {"type": "rule", "color": "#444", "strokeWidth": 1, "strokeDash": [5, 3]}, "encoding": {"y": {"datum": 0, "type": "quantitative", "scale": {"domain": [-0.12, 0.12], "nice": false, "zero": false}, "axis": null}}},
  {"data": {"name": "pts"}, "transform": [{"filter": "datum.z == 0"}], "mark": {"type": "errorbar", "ticks": true, "opacity": 0.55},
   "encoding": {"x": {"field": "x", "type": "quantitative", "scale": {"domain": [-0.53, 0.6], "nice": false, "zero": false}, "axis": {"orient": "top", "values": [-0.52,-0.48,-0.44,-0.4,-0.36,-0.32,-0.28,-0.24,-0.2,-0.16,-0.12,-0.08,-0.04,0,0.04,0.08,0.12,0.16,0.2,0.24,0.28,0.32,0.36,0.4,0.44,0.48,0.52,0.56,0.6], "labels": false, "title": null, "tickSize": {"condition": {"test": "abs(round(datum.value*100)) % 20 == 0", "value": 5}, "value": 2.5}}},
                "y": {"field": "d", "type": "quantitative", "scale": {"domain": [-0.12, 0.12], "nice": false, "zero": false}, "axis": {"orient": "right", "values": [-0.12,-0.11,-0.1,-0.09,-0.08,-0.07,-0.06,-0.05,-0.04,-0.03,-0.02,-0.01,0,0.01,0.02,0.03,0.04,0.05,0.06,0.07,0.08,0.09,0.1,0.11,0.12], "labels": false, "title": null, "tickSize": {"condition": {"test": "abs(round(datum.value*100)) % 5 == 0", "value": 5}, "value": 2.5}}},
                "yError": {"field": "e"},
                "color": {"field": "m", "type": "nominal", "scale": {"domain": ["4","5","6","7"], "range": ["#3d3daa","#aa3a78","#a08a3a","#3d9f55"]}, "legend": null}}},
  {"data": {"name": "pts"}, "transform": [{"filter": "datum.z == 0"}], "mark": {"type": "point", "filled": true, "size": 30, "opacity": 1},
   "encoding": {"x": {"field": "x", "type": "quantitative", "scale": {"domain": [-0.53, 0.6], "nice": false, "zero": false}, "axis": {"orient": "bottom", "values": [-0.52,-0.48,-0.44,-0.4,-0.36,-0.32,-0.28,-0.24,-0.2,-0.16,-0.12,-0.08,-0.04,0,0.04,0.08,0.12,0.16,0.2,0.24,0.28,0.32,0.36,0.4,0.44,0.48,0.52,0.56,0.6], "format": ".1f", "labelOverlap": false, "labelExpr": "abs(round(datum.value*100)) % 20 != 0 ? '' : (datum.value > 0.59 ? '0.' : datum.label)", "labelAlign": {"condition": {"test": "datum.value > 0.59", "value": "right"}, "value": "center"}, "labelPadding": 0, "title": null, "tickSize": {"condition": {"test": "abs(round(datum.value*100)) % 20 == 0", "value": 5}, "value": 2.5}}},
                "y": {"field": "d", "type": "quantitative", "scale": {"domain": [-0.12, 0.12], "nice": false, "zero": false}, "axis": {"orient": "left", "values": [-0.12,-0.11,-0.1,-0.09,-0.08,-0.07,-0.06,-0.05,-0.04,-0.03,-0.02,-0.01,0,0.01,0.02,0.03,0.04,0.05,0.06,0.07,0.08,0.09,0.1,0.11,0.12], "format": ".2f", "labelOverlap": false, "labelExpr": "abs(round(datum.value*100)) % 5 != 0 ? '' : datum.label", "labelPadding": 8, "title": "Δf/f", "titlePadding": 2, "tickSize": {"condition": {"test": "abs(round(datum.value*100)) % 5 == 0", "value": 5}, "value": 2.5}}},
                "color": {"field": "m", "type": "nominal", "scale": {"domain": ["4","5","6","7"], "range": ["#3d3daa","#aa3a78","#a08a3a","#3d9f55"]}, "legend": null},
                "shape": {"field": "m", "type": "nominal", "scale": {"domain": ["4","5","6","7"], "range": ["circle","square","diamond","triangle-up"]}, "legend": null}}}
 ]},
 {"width": 174, "height": 122, "resolve": {"axis": {"x": "independent", "y": "independent"}}, "layer": [
  {"data": {"name": "refs"}, "mark": {"type": "rule", "color": "#555", "strokeWidth": 1, "strokeDash": [1, 2.5]}, "encoding": {"y": {"field": "v", "type": "quantitative", "scale": {"domain": [-0.12, 0.12], "nice": false, "zero": false}, "axis": null}}},
  {"data": {"values": [{}]}, "mark": {"type": "rule", "color": "#444", "strokeWidth": 1, "strokeDash": [5, 3]}, "encoding": {"y": {"datum": 0, "type": "quantitative", "scale": {"domain": [-0.12, 0.12], "nice": false, "zero": false}, "axis": null}}},
  {"data": {"name": "pts"}, "transform": [{"filter": "datum.z == 0.5"}], "mark": {"type": "errorbar", "ticks": true, "opacity": 0.55},
   "encoding": {"x": {"field": "x", "type": "quantitative", "scale": {"domain": [-0.53, 0.6], "nice": false, "zero": false}, "axis": {"orient": "top", "values": [-0.52,-0.48,-0.44,-0.4,-0.36,-0.32,-0.28,-0.24,-0.2,-0.16,-0.12,-0.08,-0.04,0,0.04,0.08,0.12,0.16,0.2,0.24,0.28,0.32,0.36,0.4,0.44,0.48,0.52,0.56,0.6], "labels": false, "title": null, "tickSize": {"condition": {"test": "abs(round(datum.value*100)) % 20 == 0", "value": 5}, "value": 2.5}}},
                "y": {"field": "d", "type": "quantitative", "scale": {"domain": [-0.12, 0.12], "nice": false, "zero": false}, "axis": {"orient": "right", "values": [-0.12,-0.11,-0.1,-0.09,-0.08,-0.07,-0.06,-0.05,-0.04,-0.03,-0.02,-0.01,0,0.01,0.02,0.03,0.04,0.05,0.06,0.07,0.08,0.09,0.1,0.11,0.12], "labels": false, "title": null, "tickSize": {"condition": {"test": "abs(round(datum.value*100)) % 5 == 0", "value": 5}, "value": 2.5}}},
                "yError": {"field": "e"},
                "color": {"field": "m", "type": "nominal", "scale": {"domain": ["4","5","6","7"], "range": ["#3d3daa","#aa3a78","#a08a3a","#3d9f55"]}, "legend": null}}},
  {"data": {"name": "pts"}, "transform": [{"filter": "datum.z == 0.5"}], "mark": {"type": "point", "filled": true, "size": 30, "opacity": 1},
   "encoding": {"x": {"field": "x", "type": "quantitative", "scale": {"domain": [-0.53, 0.6], "nice": false, "zero": false}, "axis": {"orient": "bottom", "values": [-0.52,-0.48,-0.44,-0.4,-0.36,-0.32,-0.28,-0.24,-0.2,-0.16,-0.12,-0.08,-0.04,0,0.04,0.08,0.12,0.16,0.2,0.24,0.28,0.32,0.36,0.4,0.44,0.48,0.52,0.56,0.6], "format": ".1f", "labelOverlap": false, "labelExpr": "abs(round(datum.value*100)) % 20 != 0 ? '' : (datum.value > 0.59 ? '0.' : datum.label)", "labelAlign": {"condition": {"test": "datum.value > 0.59", "value": "right"}, "value": "center"}, "labelPadding": 0, "title": null, "tickSize": {"condition": {"test": "abs(round(datum.value*100)) % 20 == 0", "value": 5}, "value": 2.5}}},
                "y": {"field": "d", "type": "quantitative", "scale": {"domain": [-0.12, 0.12], "nice": false, "zero": false}, "axis": {"orient": "left", "values": [-0.12,-0.11,-0.1,-0.09,-0.08,-0.07,-0.06,-0.05,-0.04,-0.03,-0.02,-0.01,0,0.01,0.02,0.03,0.04,0.05,0.06,0.07,0.08,0.09,0.1,0.11,0.12], "labels": false, "title": null, "tickSize": {"condition": {"test": "abs(round(datum.value*100)) % 5 == 0", "value": 5}, "value": 2.5}}},
                "color": {"field": "m", "type": "nominal", "scale": {"domain": ["4","5","6","7"], "range": ["#3d3daa","#aa3a78","#a08a3a","#3d9f55"]}, "legend": null},
                "shape": {"field": "m", "type": "nominal", "scale": {"domain": ["4","5","6","7"], "range": ["circle","square","diamond","triangle-up"]}, "legend": null}}}
 ]},
 {"width": 174, "height": 122, "resolve": {"axis": {"x": "independent", "y": "independent"}}, "layer": [
  {"data": {"name": "refs"}, "mark": {"type": "rule", "color": "#555", "strokeWidth": 1, "strokeDash": [1, 2.5]}, "encoding": {"y": {"field": "v", "type": "quantitative", "scale": {"domain": [-0.12, 0.12], "nice": false, "zero": false}, "axis": null}}},
  {"data": {"values": [{}]}, "mark": {"type": "rule", "color": "#444", "strokeWidth": 1, "strokeDash": [5, 3]}, "encoding": {"y": {"datum": 0, "type": "quantitative", "scale": {"domain": [-0.12, 0.12], "nice": false, "zero": false}, "axis": null}}},
  {"data": {"name": "pts"}, "transform": [{"filter": "datum.z == 1"}], "mark": {"type": "errorbar", "ticks": true, "opacity": 0.55},
   "encoding": {"x": {"field": "x", "type": "quantitative", "scale": {"domain": [-0.53, 0.6], "nice": false, "zero": false}, "axis": {"orient": "top", "values": [-0.52,-0.48,-0.44,-0.4,-0.36,-0.32,-0.28,-0.24,-0.2,-0.16,-0.12,-0.08,-0.04,0,0.04,0.08,0.12,0.16,0.2,0.24,0.28,0.32,0.36,0.4,0.44,0.48,0.52,0.56,0.6], "labels": false, "title": null, "tickSize": {"condition": {"test": "abs(round(datum.value*100)) % 20 == 0", "value": 5}, "value": 2.5}}},
                "y": {"field": "d", "type": "quantitative", "scale": {"domain": [-0.12, 0.12], "nice": false, "zero": false}, "axis": {"orient": "right", "values": [-0.12,-0.11,-0.1,-0.09,-0.08,-0.07,-0.06,-0.05,-0.04,-0.03,-0.02,-0.01,0,0.01,0.02,0.03,0.04,0.05,0.06,0.07,0.08,0.09,0.1,0.11,0.12], "labels": false, "title": null, "tickSize": {"condition": {"test": "abs(round(datum.value*100)) % 5 == 0", "value": 5}, "value": 2.5}}},
                "yError": {"field": "e"},
                "color": {"field": "m", "type": "nominal", "scale": {"domain": ["4","5","6","7"], "range": ["#3d3daa","#aa3a78","#a08a3a","#3d9f55"]}, "legend": null}}},
  {"data": {"name": "pts"}, "transform": [{"filter": "datum.z == 1"}], "mark": {"type": "point", "filled": true, "size": 30, "opacity": 1},
   "encoding": {"x": {"field": "x", "type": "quantitative", "scale": {"domain": [-0.53, 0.6], "nice": false, "zero": false}, "axis": {"orient": "bottom", "values": [-0.52,-0.48,-0.44,-0.4,-0.36,-0.32,-0.28,-0.24,-0.2,-0.16,-0.12,-0.08,-0.04,0,0.04,0.08,0.12,0.16,0.2,0.24,0.28,0.32,0.36,0.4,0.44,0.48,0.52,0.56,0.6], "format": ".1f", "labelOverlap": false, "labelExpr": "abs(round(datum.value*100)) % 20 != 0 ? '' : (datum.value > 0.59 ? '0.' : datum.label)", "labelAlign": {"condition": {"test": "datum.value > 0.59", "value": "right"}, "value": "center"}, "labelPadding": 0, "title": null, "tickSize": {"condition": {"test": "abs(round(datum.value*100)) % 20 == 0", "value": 5}, "value": 2.5}}},
                "y": {"field": "d", "type": "quantitative", "scale": {"domain": [-0.12, 0.12], "nice": false, "zero": false}, "axis": {"orient": "left", "values": [-0.12,-0.11,-0.1,-0.09,-0.08,-0.07,-0.06,-0.05,-0.04,-0.03,-0.02,-0.01,0,0.01,0.02,0.03,0.04,0.05,0.06,0.07,0.08,0.09,0.1,0.11,0.12], "labels": false, "title": null, "tickSize": {"condition": {"test": "abs(round(datum.value*100)) % 5 == 0", "value": 5}, "value": 2.5}}},
                "color": {"field": "m", "type": "nominal", "scale": {"domain": ["4","5","6","7"], "range": ["#3d3daa","#aa3a78","#a08a3a","#3d9f55"]}, "legend": null},
                "shape": {"field": "m", "type": "nominal", "scale": {"domain": ["4","5","6","7"], "range": ["circle","square","diamond","triangle-up"]}, "legend": null}}}
 ]},
 {"width": 174, "height": 122, "resolve": {"axis": {"x": "independent", "y": "independent"}}, "layer": [
  {"data": {"name": "refs"}, "mark": {"type": "rule", "color": "#555", "strokeWidth": 1, "strokeDash": [1, 2.5]}, "encoding": {"y": {"field": "v", "type": "quantitative", "scale": {"domain": [-0.12, 0.12], "nice": false, "zero": false}, "axis": null}}},
  {"data": {"values": [{}]}, "mark": {"type": "rule", "color": "#444", "strokeWidth": 1, "strokeDash": [5, 3]}, "encoding": {"y": {"datum": 0, "type": "quantitative", "scale": {"domain": [-0.12, 0.12], "nice": false, "zero": false}, "axis": null}}},
  {"data": {"name": "pts"}, "transform": [{"filter": "datum.z == 1.5"}], "mark": {"type": "errorbar", "ticks": true, "opacity": 0.55},
   "encoding": {"x": {"field": "x", "type": "quantitative", "scale": {"domain": [-0.53, 0.6], "nice": false, "zero": false}, "axis": {"orient": "top", "values": [-0.52,-0.48,-0.44,-0.4,-0.36,-0.32,-0.28,-0.24,-0.2,-0.16,-0.12,-0.08,-0.04,0,0.04,0.08,0.12,0.16,0.2,0.24,0.28,0.32,0.36,0.4,0.44,0.48,0.52,0.56,0.6], "labels": false, "title": null, "tickSize": {"condition": {"test": "abs(round(datum.value*100)) % 20 == 0", "value": 5}, "value": 2.5}}},
                "y": {"field": "d", "type": "quantitative", "scale": {"domain": [-0.12, 0.12], "nice": false, "zero": false}, "axis": {"orient": "right", "values": [-0.12,-0.11,-0.1,-0.09,-0.08,-0.07,-0.06,-0.05,-0.04,-0.03,-0.02,-0.01,0,0.01,0.02,0.03,0.04,0.05,0.06,0.07,0.08,0.09,0.1,0.11,0.12], "format": ".2f", "labelOverlap": false, "labelExpr": "abs(round(datum.value*100)) % 5 != 0 ? '' : datum.label", "labelPadding": 0, "title": null, "tickSize": {"condition": {"test": "abs(round(datum.value*100)) % 5 == 0", "value": 5}, "value": 2.5}}},
                "yError": {"field": "e"},
                "color": {"field": "m", "type": "nominal", "scale": {"domain": ["4","5","6","7"], "range": ["#3d3daa","#aa3a78","#a08a3a","#3d9f55"]}, "legend": null}}},
  {"data": {"name": "pts"}, "transform": [{"filter": "datum.z == 1.5"}], "mark": {"type": "point", "filled": true, "size": 30, "opacity": 1},
   "encoding": {"x": {"field": "x", "type": "quantitative", "scale": {"domain": [-0.53, 0.6], "nice": false, "zero": false}, "axis": {"orient": "bottom", "values": [-0.52,-0.48,-0.44,-0.4,-0.36,-0.32,-0.28,-0.24,-0.2,-0.16,-0.12,-0.08,-0.04,0,0.04,0.08,0.12,0.16,0.2,0.24,0.28,0.32,0.36,0.4,0.44,0.48,0.52,0.56,0.6], "format": ".1f", "labelOverlap": false, "labelExpr": "abs(round(datum.value*100)) % 20 != 0 ? '' : datum.label", "labelPadding": 0, "title": null, "tickSize": {"condition": {"test": "abs(round(datum.value*100)) % 20 == 0", "value": 5}, "value": 2.5}}},
                "y": {"field": "d", "type": "quantitative", "scale": {"domain": [-0.12, 0.12], "nice": false, "zero": false}, "axis": {"orient": "left", "values": [-0.12,-0.11,-0.1,-0.09,-0.08,-0.07,-0.06,-0.05,-0.04,-0.03,-0.02,-0.01,0,0.01,0.02,0.03,0.04,0.05,0.06,0.07,0.08,0.09,0.1,0.11,0.12], "labels": false, "title": null, "tickSize": {"condition": {"test": "abs(round(datum.value*100)) % 5 == 0", "value": 5}, "value": 2.5}}},
                "color": {"field": "m", "type": "nominal", "scale": {"domain": ["4","5","6","7"], "range": ["#3d3daa","#aa3a78","#a08a3a","#3d9f55"]}, "legend": null},
                "shape": {"field": "m", "type": "nominal", "scale": {"domain": ["4","5","6","7"], "range": ["circle","square","diamond","triangle-up"]}, "legend": null}}}
 ]}
]
}
